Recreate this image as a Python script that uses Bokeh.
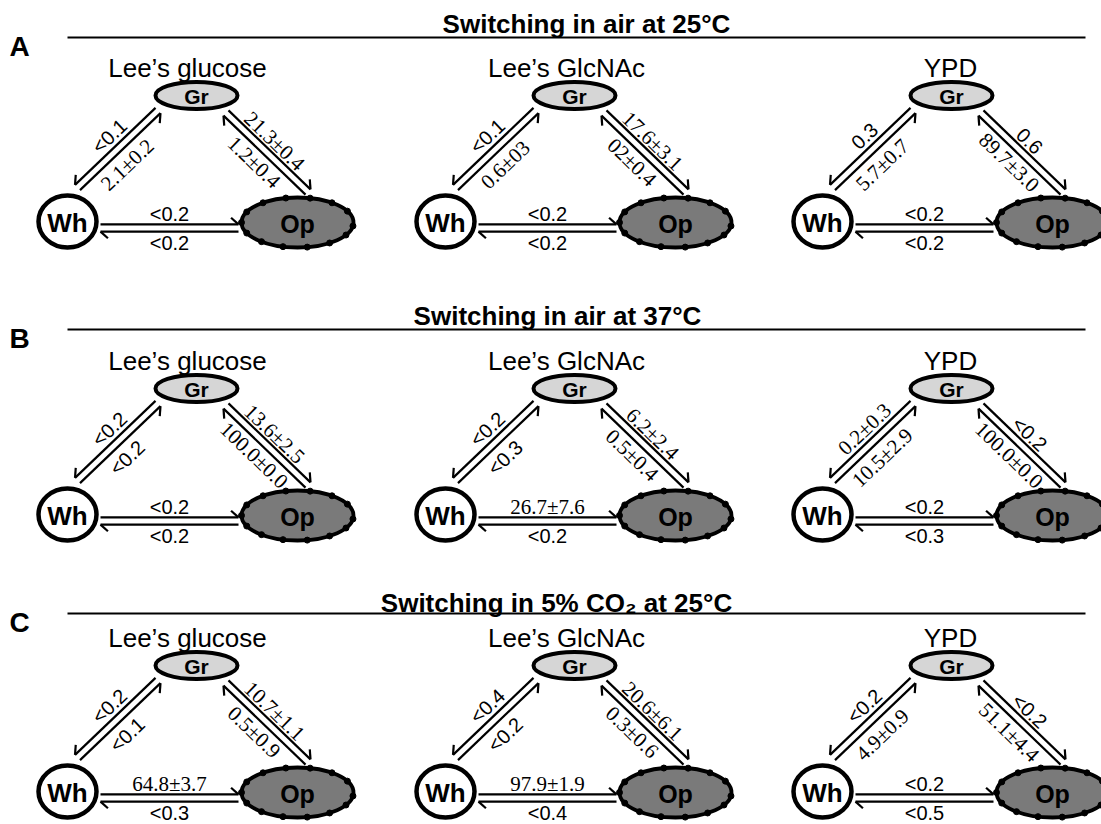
import math
import numpy as np
from bokeh.plotting import figure
from bokeh.models import Range1d, ColumnDataSource
from bokeh.embed import file_html
from bokeh.resources import INLINE
from bokeh.core.properties import value

# ---------------- data ----------------
panel_letters = ["A", "B", "C"]
row_titles = ["Switching in air at 25°C",
              "Switching in air at 37°C",
              "Switching in 5% CO₂ at 25°C"]
media = ["Lee’s glucose", "Lee’s GlcNAc", "YPD"]
state_names = ["Gr", "Wh", "Op"]

# switching frequencies (%), rows = conditions A/B/C, cols = media
gr_to_wh = [["<0.1", "<0.1", "0.3"],
            ["<0.2", "<0.2", "0.2±0.3"],
            ["<0.2", "<0.4", "<0.2"]]
wh_to_gr = [["2.1±0.2", "0.6±03", "5.7±0.7"],
            ["<0.2", "<0.3", "10.5±2.9"],
            ["<0.1", "<0.2", "4.9±0.9"]]
gr_to_op = [["21.3±0.4", "17.6±3.1", "0.6"],
            ["13.6±2.5", "6.2±2.4", "<0.2"],
            ["10.7±1.1", "20.6±6.1", "<0.2"]]
op_to_gr = [["1.2±0.4", "02±0.4", "89.7±3.0"],
            ["100.0±0.0", "0.5±0.4", "100.0±0.0"],
            ["0.5±0.9", "0.3±0.6", "51.1±4.4"]]
wh_to_op = [["<0.2", "<0.2", "<0.2"],
            ["<0.2", "26.7±7.6", "<0.2"],
            ["64.8±3.7", "97.9±1.9", "<0.2"]]
op_to_wh = [["<0.2", "<0.2", "<0.2"],
            ["<0.2", "<0.2", "<0.3"],
            ["<0.3", "<0.4", "<0.5"]]

# ---------------- layout (picture pixel coordinates) ----------------
COL_X = [0, 378, 755]
ROW_Y = [0, 293, 570]
GR = (196, 95)
WH = (67, 221)
OP = (297, 222)
TITLE_X = [586, 557, 556]
TITLE_Y = [23, 315, 602]
RULE_Y = [37, 329, 613]
SUB_X = [187, 566, 950]

SANS = "Liberation Sans"
SERIF = "Liberation Serif"

p = figure(width=1101, height=824, x_range=Range1d(0, 1101), y_range=Range1d(824, 0),
           output_backend="svg", toolbar_location=None, min_border=0,
           x_axis_location=None, y_axis_location=None)
p.grid.visible = False
p.outline_line_color = None
p.background_fill_color = "white"

seg = dict(x0=[], y0=[], x1=[], y1=[])
labels = {SANS: dict(x=[], y=[], text=[], angle=[]), SERIF: dict(x=[], y=[], text=[], angle=[])}


def add_seg(a, b):
    seg["x0"].append(a[0]); seg["y0"].append(a[1])
    seg["x1"].append(b[0]); seg["y1"].append(b[1])


def add_label(txt, x, y, ang):
    f = SERIF if "±" in txt else SANS
    labels[f]["x"].append(x); labels[f]["y"].append(y)
    labels[f]["text"].append(txt); labels[f]["angle"].append(ang)


def edge(A, B, sign, lab1, lab2, d1, d2, al1, al2):
    """A->B harpoon on side n (sign), B->A harpoon on the other side."""
    ax, ay = A; bx, by = B
    L = math.hypot(bx - ax, by - ay)
    dx, dy = (bx - ax) / L, (by - ay) / L
    nx, ny = (dy, -dx) if sign > 0 else (-dy, dx)
    h = 3.6
    bl = 10.0
    ca, sa = math.cos(math.radians(42)), math.sin(math.radians(42))
    s1 = (ax + h * nx, ay + h * ny); e1 = (bx + h * nx, by + h * ny)
    add_seg(s1, e1)
    add_seg(e1, (e1[0] + bl * (-dx * ca + nx * sa), e1[1] + bl * (-dy * ca + ny * sa)))
    s2 = (bx - h * nx, by - h * ny); e2 = (ax - h * nx, ay - h * ny)
    add_seg(s2, e2)
    add_seg(e2, (e2[0] + bl * (dx * ca - nx * sa), e2[1] + bl * (dy * ca - ny * sa)))
    vx, vy = (bx - ax, by - ay) if bx > ax else (ax - bx, ay - by)
    ang = -math.atan2(vy, vx)
    mx, my = (ax + bx) / 2, (ay + by) / 2
    add_label(lab1, mx + d1 * nx + al1 * dx, my + d1 * ny + al1 * dy, ang)
    add_label(lab2, mx - d2 * nx + al2 * dx, my - d2 * ny + al2 * dy, ang)


node_x = {"Gr": [], "Wh": [], "Op": []}
node_y = {"Gr": [], "Wh": [], "Op": []}
dots_x, dots_y = [], []
dot_angles = np.radians([8, 30, 55, 80, 105, 130, 155, 180, 205, 232, 258, 283, 308, 333])

for r in range(3):
    oy = ROW_Y[r]
    for c in range(3):
        ox = COL_X[c]
        gr = (GR[0] + ox, GR[1] + oy)
        wh = (WH[0] + ox, WH[1] + oy)
        op = (OP[0] + ox, OP[1] + oy)
        for nm, pt in (("Gr", gr), ("Wh", wh), ("Op", op)):
            node_x[nm].append(pt[0]); node_y[nm].append(pt[1])
        for a in dot_angles:
            dots_x.append(op[0] + 56 * math.cos(a))
            dots_y.append(op[1] + 25 * math.sin(a))
        # Gr <-> Wh (left side)
        edge((gr[0] - 38.5, gr[1] + 15), (wh[0] + 10, wh[1] - 34), -1,
             gr_to_wh[r][c], wh_to_gr[r][c], 15, 18, -3, 4)
        # Gr <-> Op (right side)
        edge((gr[0] + 29.5, gr[1] + 17.5), (op[0] + 10.5, op[1] - 30.5), +1,
             gr_to_op[r][c], op_to_gr[r][c], 13.5, 16, -2.5, -2.5)
        # Wh <-> Op (bottom)
        edge((wh[0] + 33, wh[1] + 6.5), (op[0] - 59, op[1] + 5.5), +1,
             wh_to_op[r][c], op_to_wh[r][c], 14.5, 15, 0, 0)

# arrows
p.segment("x0", "y0", "x1", "y1", source=ColumnDataSource(seg), line_color="black", line_width=2.2)

# nodes
p.ellipse(node_x["Gr"], node_y["Gr"], width=82, height=27, fill_color="#d6d6d6",
          line_color="black", line_width=4)
p.ellipse(node_x["Wh"], node_y["Wh"], width=58, height=52, fill_color="white",
          line_color="black", line_width=4.5)
p.ellipse(node_x["Op"], node_y["Op"], width=112, height=50, fill_color="#7a7a7a",
          line_color="black", line_width=3.8)
p.scatter(dots_x, dots_y, marker="circle", size=6, fill_color="black", line_color="black")

p.text(node_x["Gr"], [y + 1 for y in node_y["Gr"]], text=["Gr"] * 9, text_font=value(SANS),
       text_font_style="bold", text_font_size="21px", text_align="center", text_baseline="middle")
p.text(node_x["Wh"], [y + 1 for y in node_y["Wh"]], text=["Wh"] * 9, text_font=value(SANS),
       text_font_style="bold", text_font_size="26px", text_align="center", text_baseline="middle")
p.text(node_x["Op"], [y + 1 for y in node_y["Op"]], text=["Op"] * 9, text_font=value(SANS),
       text_font_style="bold", text_font_size="25px", text_align="center", text_baseline="middle")

# rate labels
p.text("x", "y", text="text", angle="angle", source=ColumnDataSource(labels[SANS]),
       text_font=value(SANS), text_font_size="20px", text_align="center", text_baseline="middle",
       text_color="black")
p.text("x", "y", text="text", angle="angle", source=ColumnDataSource(labels[SERIF]),
       text_font=value(SERIF), text_font_size="21px", text_align="center", text_baseline="middle",
       text_color="black")

# row titles, rules, letters, media
p.segment([67] * 3, RULE_Y, [1085] * 3, RULE_Y, line_color="black", line_width=2)
p.text(TITLE_X, TITLE_Y, text=row_titles, text_font=value(SANS), text_font_style="bold",
       text_font_size="26px", text_align="center", text_baseline="alphabetic")
p.text([19] * 3, [y + 9 for y in RULE_Y], text=panel_letters, text_font=value(SANS),
       text_font_style="bold", text_font_size="28px", text_align="center", text_baseline="alphabetic")
sub_x, sub_y, sub_t = [], [], []
for r in range(3):
    for c in range(3):
        sub_x.append(SUB_X[c]); sub_y.append(67 + ROW_Y[r]); sub_t.append(media[c])
p.text(sub_x, sub_y, text=sub_t, text_font=value(SANS), text_font_size="26px",
       text_align="center", text_baseline="alphabetic")

open("out.html", "w").write(file_html(p, INLINE))
